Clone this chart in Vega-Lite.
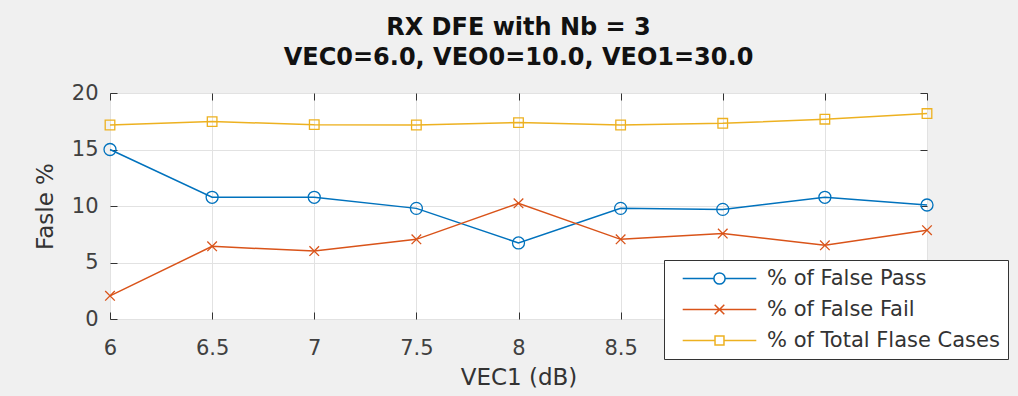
{
  "$schema": "https://vega.github.io/schema/vega-lite/v6.json",
  "width": 817,
  "height": 226,
  "autosize": {"type": "none"},
  "padding": {"left": 110, "top": 93, "right": 91, "bottom": 77},
  "background": "#f0f0f0",
  "config": {
    "view": {"fill": "white", "stroke": "#333333", "strokeWidth": 1},
    "font": "DejaVu Sans",
    "axis": {
      "gridColor": "#e2e2e2",
      "gridWidth": 1,
      "gridOpacity": 1,
      "domain": false,
      "tickColor": "#333333",
      "tickSize": -7,
      "tickWidth": 1,
      "labelFont": "DejaVu Sans",
      "labelFontSize": 21,
      "labelColor": "#404040",
      "titleFont": "DejaVu Sans",
      "titleFontSize": 23,
      "titleFontWeight": "normal",
      "titleColor": "#333333"
    },
    "legend": {
      "orient": "none",
      "legendX": 554,
      "legendY": 167,
      "fillColor": "white",
      "strokeColor": "#333333",
      "padding": 8,
      "symbolSize": 256,
      "symbolOffset": 37,
      "labelOffset": 37,
      "labelFont": "DejaVu Sans",
      "labelFontSize": 21,
      "labelColor": "#333333",
      "labelLimit": 400,
      "rowPadding": 9,
      "symbolStrokeWidth": 1.5
    }
  },
  "title": {
    "text": "RX DFE with Nb = 3",
    "subtitle": "VEC0=6.0, VEO0=10.0, VEO1=30.0",
    "anchor": "middle",
    "frame": "group",
    "font": "DejaVu Sans",
    "fontSize": 24,
    "fontWeight": "bold",
    "color": "#111111",
    "subtitleFont": "DejaVu Sans",
    "subtitleFontSize": 24,
    "subtitleFontWeight": "bold",
    "subtitleColor": "#111111",
    "subtitlePadding": 6,
    "offset": 12
  },
  "data": {
    "values": [
      {"vec1": 6.0, "series": "% of False Pass", "pct": 15.0},
      {"vec1": 6.5, "series": "% of False Pass", "pct": 10.77},
      {"vec1": 7.0, "series": "% of False Pass", "pct": 10.77},
      {"vec1": 7.5, "series": "% of False Pass", "pct": 9.79},
      {"vec1": 8.0, "series": "% of False Pass", "pct": 6.73},
      {"vec1": 8.5, "series": "% of False Pass", "pct": 9.79},
      {"vec1": 9.0, "series": "% of False Pass", "pct": 9.7},
      {"vec1": 9.5, "series": "% of False Pass", "pct": 10.77},
      {"vec1": 10.0, "series": "% of False Pass", "pct": 10.09},
      {"vec1": 6.0, "series": "% of False Fail", "pct": 2.05},
      {"vec1": 6.5, "series": "% of False Fail", "pct": 6.43},
      {"vec1": 7.0, "series": "% of False Fail", "pct": 6.01},
      {"vec1": 7.5, "series": "% of False Fail", "pct": 7.05},
      {"vec1": 8.0, "series": "% of False Fail", "pct": 10.24},
      {"vec1": 8.5, "series": "% of False Fail", "pct": 7.05},
      {"vec1": 9.0, "series": "% of False Fail", "pct": 7.56},
      {"vec1": 9.5, "series": "% of False Fail", "pct": 6.52},
      {"vec1": 10.0, "series": "% of False Fail", "pct": 7.86},
      {"vec1": 6.0, "series": "% of Total Flase Cases", "pct": 17.17},
      {"vec1": 6.5, "series": "% of Total Flase Cases", "pct": 17.47},
      {"vec1": 7.0, "series": "% of Total Flase Cases", "pct": 17.2},
      {"vec1": 7.5, "series": "% of Total Flase Cases", "pct": 17.17},
      {"vec1": 8.0, "series": "% of Total Flase Cases", "pct": 17.38},
      {"vec1": 8.5, "series": "% of Total Flase Cases", "pct": 17.17},
      {"vec1": 9.0, "series": "% of Total Flase Cases", "pct": 17.32},
      {"vec1": 9.5, "series": "% of Total Flase Cases", "pct": 17.68},
      {"vec1": 10.0, "series": "% of Total Flase Cases", "pct": 18.18}
    ]
  },
  "layer": [
    {
      "mark": {"type": "line", "strokeWidth": 1.5},
      "encoding": {
        "x": {
          "field": "vec1",
          "type": "quantitative",
          "scale": {"domain": [6, 10], "nice": false, "zero": false},
          "axis": {
            "values": [6, 6.5, 7, 7.5, 8, 8.5, 9, 9.5, 10],
            "format": "~g",
            "grid": true,
            "labelFlush": false,
            "labelOverlap": false,
            "labelPadding": 25,
            "title": "VEC1 (dB)",
            "titlePadding": 8
          }
        },
        "y": {
          "field": "pct",
          "type": "quantitative",
          "scale": {"domain": [0, 20], "nice": false, "zero": false},
          "axis": {
            "values": [0, 5, 10, 15, 20],
            "grid": true,
            "labelOverlap": false,
            "labelPadding": 19,
            "title": "Fasle %",
            "titlePadding": 14
          }
        },
        "color": {
          "field": "series",
          "type": "nominal",
          "title": null,
          "scale": {
            "domain": ["% of False Pass", "% of False Fail", "% of Total Flase Cases"],
            "range": ["#0072BD", "#D95319", "#EDB120"]
          }
        }
      }
    },
    {
      "mark": {"type": "point", "filled": false, "strokeWidth": 1.5, "size": 0, "opacity": 1},
      "encoding": {
        "x": {
          "field": "vec1",
          "type": "quantitative",
          "axis": {
            "orient": "top",
            "values": [6, 6.5, 7, 7.5, 8, 8.5, 9, 9.5, 10],
            "labels": false,
            "grid": false,
            "title": null
          }
        },
        "y": {
          "field": "pct",
          "type": "quantitative",
          "axis": {
            "orient": "right",
            "values": [0, 5, 10, 15, 20],
            "labels": false,
            "grid": false,
            "title": null
          }
        },
        "color": {"field": "series", "type": "nominal", "title": null},
        "shape": {
          "field": "series",
          "type": "nominal",
          "title": null,
          "scale": {
            "domain": ["% of False Pass", "% of False Fail", "% of Total Flase Cases"],
            "range": [
              "M-4.6,0L-0.7,0M0.7,0L4.6,0M-0.7,0A0.7,0.7,0,1,1,0.7,0A0.7,0.7,0,1,1,-0.7,0",
              "M-4.6,0L4.6,0M-0.6,-0.6L0.6,0.6M-0.6,0.6L0.6,-0.6",
              "M-4.6,0L-0.56,0M0.56,0L4.6,0M-0.56,-0.56L0.56,-0.56L0.56,0.56L-0.56,0.56Z"
            ]
          }
        }
      }
    },
    {
      "transform": [{"filter": "datum.series === '% of False Pass'"}],
      "mark": {"type": "point", "shape": "circle", "filled": false, "color": "#0072BD", "strokeWidth": 1.3, "size": 144, "opacity": 1},
      "encoding": {
        "x": {"field": "vec1", "type": "quantitative", "axis": null},
        "y": {"field": "pct", "type": "quantitative", "axis": null}
      }
    },
    {
      "transform": [{"filter": "datum.series === '% of False Fail'"}],
      "mark": {"type": "point", "shape": "M-0.8,-0.8L0.8,0.8M-0.8,0.8L0.8,-0.8", "filled": false, "color": "#D95319", "strokeWidth": 1.3, "size": 144, "opacity": 1},
      "encoding": {
        "x": {"field": "vec1", "type": "quantitative", "axis": null},
        "y": {"field": "pct", "type": "quantitative", "axis": null}
      }
    },
    {
      "transform": [{"filter": "datum.series === '% of Total Flase Cases'"}],
      "mark": {"type": "point", "shape": "M-0.8,-0.8L0.8,-0.8L0.8,0.8L-0.8,0.8Z", "filled": false, "color": "#EDB120", "strokeWidth": 1.3, "size": 144, "opacity": 1},
      "encoding": {
        "x": {"field": "vec1", "type": "quantitative", "axis": null},
        "y": {"field": "pct", "type": "quantitative", "axis": null}
      }
    }
  ],
  "resolve": {"axis": {"x": "independent", "y": "independent"}}
}
